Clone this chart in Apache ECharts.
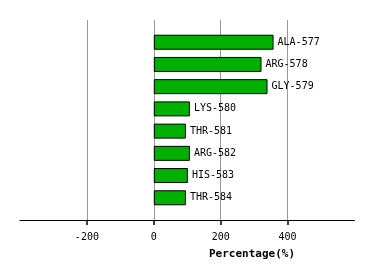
<!DOCTYPE html>
<html><head><meta charset="utf-8">
<script src="https://cdn.jsdelivr.net/npm/echarts@6/dist/echarts.min.js"></script>
<style>html,body{margin:0;padding:0;background:#fff}#c{width:374px;height:280px}</style>
</head><body><div id="c"></div>
<script>
const categories = ['ALA-577','ARG-578','GLY-579','LYS-580','THR-581','ARG-582','HIS-583','THR-584'];
const values = [358, 322, 340, 108, 96, 108, 102, 96];
const tickValues = [-200, 0, 200, 400];
const axisTitle = 'Percentage(%)';

const chart = echarts.init(document.getElementById('c'));
const font = 'DejaVu Sans Mono';
chart.setOption({
  animation: false,
  grid: {left: 20, right: 19.5, top: 20, bottom: 60},
  xAxis: {
    type: 'value', min: -400, max: 600, interval: 200,
    axisLine: {show: true, onZero: false, lineStyle: {color: '#000', width: 1}},
    axisTick: {show: true, length: 5, lineStyle: {color: '#000', width: 1.5}, customValues: tickValues},
    axisLabel: {customValues: tickValues, color: '#000', fontFamily: font, fontSize: 10, margin: 12},
    splitLine: {show: true, lineStyle: {color: '#999', width: 1}}
  },
  yAxis: {type: 'category', data: [''].concat(categories, ['']), boundaryGap: false,
    inverse: true, show: false},
  series: [{
    type: 'bar',
    barWidth: 15,
    data: ['-'].concat(values, ['-']),
    itemStyle: {color: '#00b000', borderColor: '#000', borderWidth: 1},
    label: {show: true, position: 'right', distance: 4, color: '#000', fontFamily: font, fontSize: 10,
      formatter: p => p.name}
  }],
  graphic: [{type: 'text', left: 209, top: 249,
    style: {text: axisTitle, font: 'bold 11px "DejaVu Sans Mono"', fill: '#000'}}]
});
</script></body></html>
